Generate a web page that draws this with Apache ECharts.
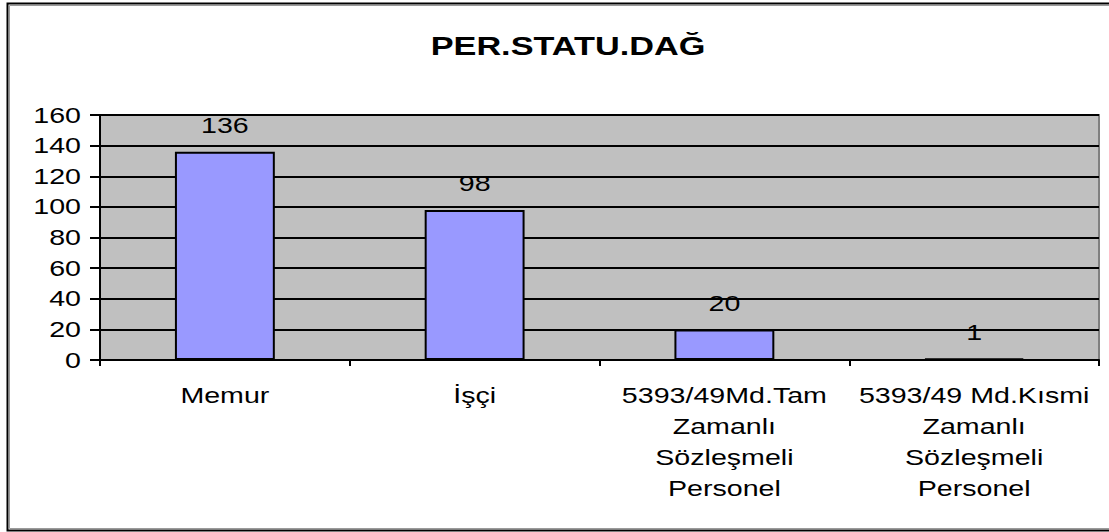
<!DOCTYPE html>
<html><head><meta charset="utf-8">
<script src="https://cdn.jsdelivr.net/npm/echarts@6/dist/echarts.min.js"></script>
<style>
html,body{margin:0;padding:0;background:#fff;}
#c{width:1109px;height:532px;}
</style>
</head><body><div id="c"></div>
<script>
const title = 'PER.STATU.DAĞ';
const categories = ['Memur', 'İşçi', '5393/49Md.Tam\nZamanlı\nSözleşmeli\nPersonel', '5393/49 Md.Kısmi\nZamanlı\nSözleşmeli\nPersonel'];
const values = [136, 98, 20, 1];
const yTicks = { min: 0, max: 160, interval: 20 };

const FONT = 'Liberation Sans, Arial, sans-serif';
const chart = echarts.init(document.getElementById('c'), null, { renderer: 'svg' });
chart.setOption({
  animation: false,
  backgroundColor: '#fff',
  title: {
    text: title, left: 563, top: 28, textAlign: 'center',
    textStyle: { fontFamily: FONT, fontSize: 25, fontWeight: 'bold', color: '#000' }
  },
  graphic: [{
    type: 'rect', left: 5, top: 1, z: -1, silent: true,
    shape: { width: 1112, height: 527 },
    style: { fill: 'none', stroke: '#000', lineWidth: 2 }
  }, {
    type: 'rect', left: 7, top: 3, z: -1, silent: true,
    shape: { width: 1110, height: 523 },
    style: { fill: 'none', stroke: '#9a9a9a', lineWidth: 1 }
  }],
  grid: {
    left: 100, top: 115, right: 10, bottom: 172, show: true,
    backgroundColor: '#c0c0c0', borderColor: '#808080', borderWidth: 2
  },
  xAxis: {
    type: 'category', data: categories,
    axisLine: { lineStyle: { color: '#000', width: 2 } },
    axisTick: { show: true, length: 6, lineStyle: { color: '#000', width: 2 } },
    axisLabel: { fontFamily: FONT, fontSize: 22, color: '#000', lineHeight: 31, margin: 20, interval: 0 }
  },
  yAxis: {
    type: 'value', min: yTicks.min, max: yTicks.max, interval: yTicks.interval,
    axisLine: { show: true, lineStyle: { color: '#000', width: 2 } },
    axisTick: { show: true, length: 10, lineStyle: { color: '#000', width: 2 } },
    axisLabel: { fontFamily: FONT, fontSize: 22, color: '#000', margin: 19 },
    splitLine: { show: true, lineStyle: { color: '#000', width: 2 } }
  },
  series: [{
    type: 'bar', data: values, barCategoryGap: '60%',
    itemStyle: { color: '#9999ff', borderColor: '#000', borderWidth: 2 },
    label: { show: true, position: 'top', distance: 15, fontFamily: FONT, fontSize: 22, color: '#000' }
  }]
});

// The reference text is drawn horizontally wider than plain Arial: widen each label's glyphs.
function stretchText() {
  document.querySelectorAll('#c svg text').forEach(function (t) {
    if (t.getAttribute('lengthAdjust')) return;
    const w = t.getComputedTextLength();
    if (!w) return;
    const bold = (t.getAttribute('style') || '').indexOf('bold') >= 0;
    const k = bold ? 1.37 : 1.3;
    t.setAttribute('textLength', (w * k).toFixed(1));
    t.setAttribute('lengthAdjust', 'spacingAndGlyphs');
  });
}
chart.on('finished', stretchText);
stretchText();
setTimeout(stretchText, 30);
</script></body></html>
